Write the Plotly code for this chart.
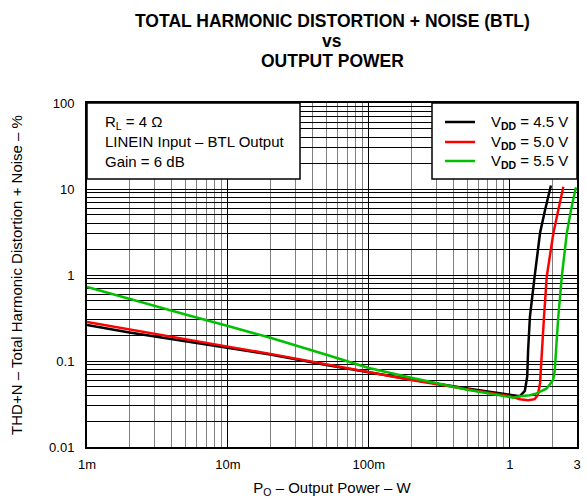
import plotly.graph_objects as go

# Output power (W) and THD+N (%) for each supply voltage
po_45 = [0.001, 0.002, 0.005, 0.01, 0.02, 0.05, 0.1, 0.2, 0.5, 1.0, 1.18, 1.28, 1.33, 1.35, 1.39, 1.5, 1.64, 1.78, 1.96]
thd_45 = [0.262, 0.215, 0.170, 0.143, 0.119, 0.090, 0.074, 0.061, 0.048, 0.040, 0.039, 0.045, 0.066, 0.134, 0.327, 0.95, 3.08, 5.7, 11.0]

po_50 = [0.001, 0.002, 0.005, 0.01, 0.02, 0.05, 0.1, 0.2, 0.5, 1.0, 1.18, 1.35, 1.5, 1.58, 1.64, 1.69, 1.75, 1.83, 2.04, 2.21, 2.40]
thd_50 = [0.284, 0.232, 0.178, 0.147, 0.121, 0.092, 0.0745, 0.060, 0.047, 0.039, 0.036, 0.035, 0.036, 0.040, 0.055, 0.134, 0.327, 0.96, 3.08, 5.7, 10.6]

po_55 = [0.001, 0.002, 0.005, 0.01, 0.02, 0.05, 0.1, 0.2, 0.5, 1.0, 1.05, 1.18, 1.39, 1.55, 1.83, 2.03, 2.09, 2.13, 2.21, 2.34, 2.54, 2.72, 2.95]
thd_55 = [0.725, 0.526, 0.347, 0.255, 0.186, 0.118, 0.083, 0.064, 0.0464, 0.038, 0.0375, 0.039, 0.040, 0.042, 0.048, 0.060, 0.079, 0.134, 0.327, 0.96, 3.06, 5.7, 10.5]

series_names = ["V<sub><b>DD</b></sub> = 4.5 V", "V<sub><b>DD</b></sub> = 5.0 V", "V<sub><b>DD</b></sub> = 5.5 V"]
series_colors = ["#000000", "#ff0000", "#00c000"]

x_tick_vals = [0.001, 0.01, 0.1, 1, 3]
x_tick_text = ["1m", "10m", "100m", "1", "3"]
y_tick_vals = [0.01, 0.1, 1, 10, 100]
y_tick_text = ["0.01", "0.1", "1", "10", "100"]

title_lines = ["TOTAL HARMONIC DISTORTION + NOISE (BTL)", "vs", "OUTPUT POWER"]
condition_lines = ["R<sub>L</sub> = 4 Ω", "LINEIN Input – BTL Output", "Gain = 6 dB"]

x_minor = [m * d for d in (0.001, 0.01, 0.1) for m in range(2, 10)] + [2]
y_minor = [m * d for d in (0.01, 0.1, 1, 10) for m in range(2, 10)]

FONT = "Liberation Sans, Arial, sans-serif"
W, H = 587, 498
ML, MR, MT, MB = 87, 10, 103, 51
PW, PH = W - ML - MR, H - MT - MB


def px_x(px):
    """Figure pixel column -> paper x."""
    return (px - ML) / PW


def px_y(py):
    """Figure pixel row -> paper y."""
    return 1 - (py - MT) / PH


fig = go.Figure()
for px, py, name, col in zip((po_45, po_50, po_55), (thd_45, thd_50, thd_55), series_names, series_colors):
    fig.add_trace(go.Scatter(x=px, y=py, mode="lines", name=name, showlegend=False,
                             line=dict(color=col, width=2.5)))

axis_common = dict(
    type="log", showline=True, mirror=True, linecolor="black", linewidth=2,
    showgrid=True, gridcolor="black", gridwidth=1, zeroline=False, automargin=False,
    ticks="outside", tickcolor="rgba(0,0,0,0)",
    tickfont=dict(size=13, color="black", family=FONT),
)

fig.update_xaxes(
    **axis_common, ticklen=4, range=[-3, 0.47712], tickvals=x_tick_vals, ticktext=x_tick_text,
    minor=dict(tickvals=x_minor, showgrid=True, gridcolor="#808080", gridwidth=1, ticks=""),
    title=dict(text="P<sub>O</sub> – Output Power – W", font=dict(size=15, color="black", family=FONT), standoff=16),
)
fig.update_yaxes(
    **axis_common, ticklen=8, range=[-2, 2], tickvals=y_tick_vals, ticktext=y_tick_text,
    minor=dict(tickvals=y_minor, showgrid=True, gridcolor="black", gridwidth=1, ticks=""),
    title=dict(text="THD+N – Total Harmonic Distortion + Noise – %", font=dict(size=15, color="black", family=FONT), standoff=23),
)

# Three-line heading centred over the plot area
for text, row in zip(title_lines, (21, 41, 61)):
    fig.add_annotation(xref="paper", yref="paper", x=0.5, y=px_y(row), xanchor="center", yanchor="middle",
                       text=f"<b>{text}</b>", showarrow=False, font=dict(size=17.5, color="black", family=FONT))

# Test-condition box in the upper-left corner
fig.add_shape(type="rect", xref="paper", yref="paper", x0=0, x1=px_x(300), y0=px_y(179), y1=1,
              line=dict(color="black", width=1.5), fillcolor="white", layer="above")
for text, row in zip(condition_lines, (122, 141.5, 161)):
    fig.add_annotation(xref="paper", yref="paper", x=px_x(103), y=px_y(row), xanchor="left", yanchor="middle",
                       text=text, showarrow=False, font=dict(size=15, color="black", family=FONT))

# Legend box in the upper-right corner
fig.add_shape(type="rect", xref="paper", yref="paper", x0=px_x(432), x1=1, y0=px_y(179), y1=1,
              line=dict(color="black", width=1.5), fillcolor="white", layer="above")
for name, col, row in zip(series_names, series_colors, (122, 142, 161)):
    fig.add_shape(type="line", xref="paper", yref="paper", x0=px_x(445), x1=px_x(475),
                  y0=px_y(row), y1=px_y(row), line=dict(color=col, width=2.5), layer="above")
    fig.add_annotation(xref="paper", yref="paper", x=px_x(489), y=px_y(row), xanchor="left", yanchor="middle",
                       text=name, showarrow=False, font=dict(size=15, color="black", family=FONT))

fig.update_layout(
    width=W, height=H,
    margin=dict(l=ML, r=MR, t=MT, b=MB, autoexpand=False),
    paper_bgcolor="white", plot_bgcolor="white",
    font=dict(family=FONT, color="black"),
    showlegend=False,
)

fig.write_html("out.html")
